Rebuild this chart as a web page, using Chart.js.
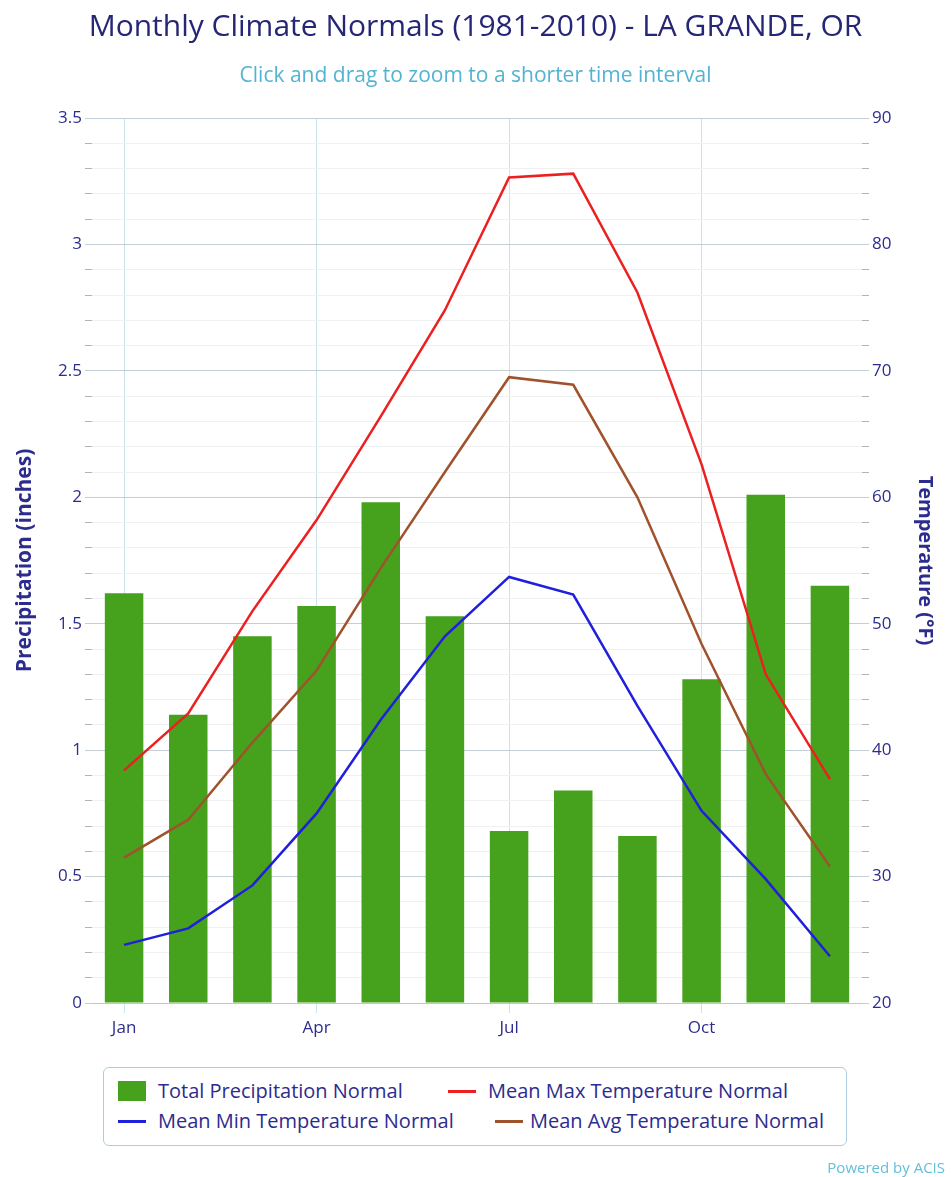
<!DOCTYPE html>
<html>
<head>
<meta charset="utf-8">
<script src="https://cdn.jsdelivr.net/npm/chart.js@4"></script>
<style>
  body { margin: 0; background: #fff; }
  #wrap { position: relative; width: 951px; height: 1177px; font-family: "Open Sans", sans-serif; }
  #chart { position: absolute; left: 0; top: 0; }
  #legend {
    position: absolute; left: 103px; top: 1067px; width: 742px; height: 77px;
    border: 1px solid #a9cfdc; border-radius: 6px; background: #fff;
  }
  .item { position: absolute; font-size: 20px; color: #2c2c8e; white-space: nowrap; line-height: 24px; }
  .sym { position: absolute; }
  #powered { position: absolute; right: 6px; top: 1157px; font-size: 15px; color: #62bfdc; }
</style>
</head>
<body>
<div id="wrap">
  <canvas id="chart" width="951" height="1177"></canvas>
  <div id="legend"></div>
  <div id="powered">Powered by ACIS</div>
</div>
<script>
// monthly normals
const months = ['Jan', 'Feb', 'Mar', 'Apr', 'May', 'Jun', 'Jul', 'Aug', 'Sep', 'Oct', 'Nov', 'Dec'];
const precip = [1.62, 1.14, 1.45, 1.57, 1.98, 1.53, 0.68, 0.84, 0.66, 1.28, 2.01, 1.65];
const maxTemp = [38.4, 42.9, 51.0, 58.2, 66.4, 74.8, 85.3, 85.6, 76.2, 62.6, 46.0, 37.7];
const avgTemp = [31.5, 34.5, 40.6, 46.3, 54.4, 62.0, 69.5, 68.9, 60.0, 48.4, 38.1, 30.8];
const minTemp = [24.6, 25.9, 29.3, 35.0, 42.4, 49.0, 53.7, 52.3, 43.5, 35.2, 29.8, 23.7];

const navy = '#2c2c8e';
const tickFont = { family: 'Open Sans', size: 17 };

function isMajor(v, step) {
  return Math.round(v / step * 10) % 10 === 0;
}

const chart = new Chart(document.getElementById('chart'), {
  data: {
    labels: months,
    datasets: [
      { type: 'bar', label: 'Total Precipitation Normal', data: precip, yAxisID: 'y',
        backgroundColor: '#46a11c', barPercentage: 0.6, categoryPercentage: 1, order: 2 },
      { type: 'line', label: 'Mean Max Temperature Normal', data: maxTemp, yAxisID: 'y1',
        borderColor: '#ec2020', borderWidth: 2.5, pointRadius: 0, order: 1 },
      { type: 'line', label: 'Mean Min Temperature Normal', data: minTemp, yAxisID: 'y1',
        borderColor: '#1f1fdc', borderWidth: 2.5, pointRadius: 0, order: 1 },
      { type: 'line', label: 'Mean Avg Temperature Normal', data: avgTemp, yAxisID: 'y1',
        borderColor: '#a0522d', borderWidth: 2.5, pointRadius: 0, order: 1 }
    ]
  },
  options: {
    responsive: false,
    animation: false,
    layout: { padding: { left: 0, right: 0, top: 0, bottom: 134 } },
    plugins: {
      legend: { display: false },
      tooltip: { enabled: false },
      title: {
        display: true,
        text: 'Monthly Climate Normals (1981-2010) - LA GRANDE, OR',
        color: '#262676',
        font: { family: 'Open Sans', size: 30, weight: 'normal' },
        padding: { top: 9, bottom: 4 }
      },
      subtitle: {
        display: true,
        text: 'Click and drag to zoom to a shorter time interval',
        color: '#52b4d2',
        font: { family: 'Open Sans', size: 21 },
        padding: { top: 14.4, bottom: 29.4 }
      }
    },
    scales: {
      x: {
        offset: true,
        grid: {
          offset: false,
          color: ctx => ctx.index % 3 === 0 ? '#c9e2ec' : 'rgba(0,0,0,0)',
          tickLength: 10
        },
        border: { color: '#a8cfe0' },
        ticks: {
          autoSkip: false,
          maxRotation: 0,
          color: navy,
          font: tickFont,
          padding: 5,
          callback: (v, i) => i % 3 === 0 ? months[i] : ''
        },
        afterFit: s => { s.height = 40; }
      },
      y: {
        position: 'left',
        min: 0, max: 3.5,
        border: { display: false },
        grid: {
          color: ctx => isMajor(ctx.tick.value, 0.5) ? '#c3ced5' : '#eef0f2',
          tickColor: ctx => isMajor(ctx.tick.value, 0.5) ? '#c3ced5' : '#b4b4b4',
          tickLength: 7
        },
        ticks: {
          stepSize: 0.1,
          autoSkip: false,
          color: navy,
          font: tickFont,
          padding: 3,
          callback: v => isMajor(v, 0.5) ? String(Math.round(v * 10) / 10) : ''
        },
        title: {
          display: true,
          text: 'Precipitation (inches)',
          color: navy,
          font: { family: 'Open Sans', size: 21, weight: 'bold' },
          padding: { top: 12.4, bottom: 0 }
        },
        afterFit: s => { s.width = 92; }
      },
      y1: {
        position: 'right',
        min: 20, max: 90,
        border: { display: false },
        grid: {
          drawOnChartArea: false,
          color: ctx => isMajor(ctx.tick.value, 10) ? '#c3ced5' : '#b4b4b4',
          tickLength: 7
        },
        ticks: {
          stepSize: 2,
          autoSkip: false,
          color: navy,
          font: tickFont,
          padding: 3,
          callback: v => isMajor(v, 10) ? String(v) : ''
        },
        title: {
          display: true,
          text: 'Temperature (°F)',
          color: navy,
          font: { family: 'Open Sans', size: 20, weight: 'bold' },
          padding: { top: 14, bottom: 0 }
        },
        afterFit: s => { s.width = 89; }
      }
    }
  }
});

// legend below the plot, two rows like the original
const legendPos = [
  { x: 14, y: 13, textX: 54 },
  { x: 344, y: 13, textX: 384 },
  { x: 14, y: 43, textX: 54 },
  { x: 391, y: 43, textX: 426 }
];
const legend = document.getElementById('legend');
chart.data.datasets.forEach((ds, i) => {
  const p = legendPos[i];
  const sym = document.createElement('div');
  sym.className = 'sym';
  if (ds.type === 'bar') {
    sym.style.cssText = `left:${p.x}px;top:${p.y}px;width:28px;height:20px;background:${ds.backgroundColor};`;
  } else {
    sym.style.cssText = `left:${p.x}px;top:${p.y + 9}px;width:28px;height:3px;background:${ds.borderColor};`;
  }
  legend.appendChild(sym);
  const t = document.createElement('div');
  t.className = 'item';
  t.style.left = p.textX + 'px';
  t.style.top = (p.y - 2) + 'px';
  t.textContent = ds.label;
  legend.appendChild(t);
});
</script>
</body>
</html>
